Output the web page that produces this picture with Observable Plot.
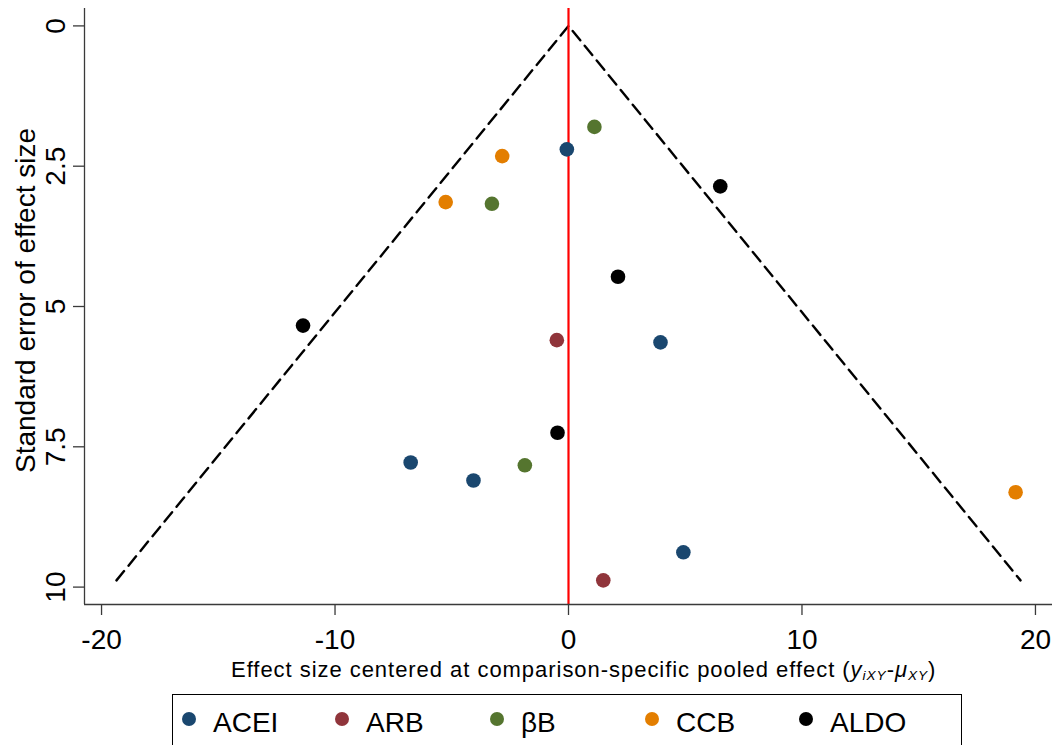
<!DOCTYPE html>
<html>
<head>
<meta charset="utf-8">
<script src="https://cdn.jsdelivr.net/npm/d3@7"></script>
<script src="https://cdn.jsdelivr.net/npm/@observablehq/plot@0.6"></script>
<style>
  html, body { margin: 0; padding: 0; background: #fff; overflow: hidden; }
  #wrap { position: relative; width: 1060px; height: 745px; font-family: "Liberation Sans", Arial, sans-serif; }
  #chart { position: absolute; left: 0; top: 0; }
  #xtitle { position: absolute; left: 231px; top: 656px; font-size: 22px; line-height: 28px; white-space: nowrap; color: #000; }
  #xtitle sub { font-size: 0.62em; vertical-align: -0.25em; font-style: italic; }
  #legend { position: absolute; left: 172px; top: 694px; width: 790px; height: 70px; border: 1.5px solid #000; box-sizing: border-box; }
  .item { position: absolute; top: 0; height: 56px; display: flex; align-items: center; font-size: 28px; color: #000; }
  .sw { display: inline-block; width: 14px; height: 14px; border-radius: 50%; margin-right: 17px; margin-top: -8px; }
</style>
</head>
<body>
<div id="wrap">
  <div id="chart"></div>
  <div id="xtitle"><span id="xt">Effect size centered at comparison-specific pooled effect (<i>y</i><sub>iXY</sub>-<i>μ</i><sub>XY</sub>)</span></div>
  <div id="legend"></div>
</div>
<script>
// ---- data ----
const classes = ["ACEI", "ARB", "βB", "CCB", "ALDO"];
const classColors = ["#1a476f", "#90353b", "#55752f", "#e37e00", "#000000"];

const aceiEffect = [-0.07, 3.94, -6.76, -4.07, 4.92];
const aceiSE     = [2.20, 5.64, 7.78, 8.10, 9.38];
const arbEffect  = [-0.50, 1.49];
const arbSE      = [5.60, 9.88];
const bbEffect   = [1.11, -3.28, -1.87];
const bbSE       = [1.80, 3.17, 7.83];
const ccbEffect  = [-2.84, -5.26, 19.15];
const ccbSE      = [2.32, 3.14, 8.31];
const aldoEffect = [6.50, 2.12, -11.37, -0.47];
const aldoSE     = [2.86, 4.47, 5.34, 7.25];

// pseudo 95% confidence funnel (left end, apex, right end)
const funnelEffect = [-19.36, 0, 19.36];
const funnelSE     = [9.88, 0, 9.88];

const xTicks = [-20, -10, 0, 10, 20];
const yTicks = [0, 2.5, 5, 7.5, 10];
const xDomain = [-20.73, 20.73];
const yDomain = [-0.31, 10.31];

// ---- build table ----
const seriesEffect = [aceiEffect, arbEffect, bbEffect, ccbEffect, aldoEffect];
const seriesSE = [aceiSE, arbSE, bbSE, ccbSE, aldoSE];
const points = [];
classes.forEach((c, i) => {
  seriesEffect[i].forEach((e, j) => points.push({cls: c, effect: e, se: seriesSE[i][j]}));
});
const funnel = funnelEffect.map((e, i) => ({effect: e, se: funnelSE[i]}));

const chart = Plot.plot({
  width: 1060,
  height: 656,
  marginLeft: 84,
  marginRight: 8,
  marginTop: 8,
  marginBottom: 52,
  style: {fontFamily: '"Liberation Sans", Arial, sans-serif', background: "#fff", color: "#000"},
  x: {domain: xDomain},
  y: {domain: yDomain, reverse: true},
  color: {domain: classes, range: classColors},
  marks: [
    Plot.line(funnel, {x: "effect", y: "se", stroke: "#000", strokeWidth: 2.4, strokeDasharray: "12,7"}),
    Plot.ruleX([0], {stroke: "#ff0000", strokeWidth: 2.2}),
    Plot.dot(points, {x: "effect", y: "se", fill: "cls", r: 7.3}),
    Plot.ruleX([xDomain[0]], {stroke: "#3a3a3a", strokeWidth: 1.3}),
    Plot.ruleY([yDomain[1]], {stroke: "#3a3a3a", strokeWidth: 1.3}),
    Plot.axisX({ticks: xTicks, tickSize: 11, tickPadding: 14, fontSize: 28, label: null, stroke: "#3a3a3a", strokeWidth: 1.3, tickFormat: d => String(d)}),
    Plot.axisY({ticks: yTicks, tickSize: 11, fontSize: 28, label: null, stroke: "#3a3a3a", strokeWidth: 1.3, tickFormat: () => ""}),
    Plot.text(yTicks, {y: d => d, text: d => String(d), frameAnchor: "left", dx: -20, rotate: -90, textAnchor: "middle", lineAnchor: "bottom", fontSize: 28, fill: "#000"}),
    Plot.text(["Standard error of effect size"], {text: d => d, frameAnchor: "left", dx: -50, dy: -6, rotate: -90, textAnchor: "middle", lineAnchor: "bottom", fontSize: 28, fill: "#000"})
  ]
});
document.getElementById("chart").appendChild(chart);

// legend
const legend = document.getElementById("legend");
const legendLefts = [9, 162, 317, 472, 626];
classes.forEach((c, i) => {
  const it = document.createElement("div");
  it.className = "item";
  it.style.left = legendLefts[i] + "px";
  const sw = document.createElement("span");
  sw.className = "sw";
  sw.style.background = classColors[i];
  it.appendChild(sw);
  const t = document.createElement("span");
  t.textContent = c;
  it.appendChild(t);
  legend.appendChild(it);
});

// fit x title width to reference span
const xt = document.getElementById("xt");
const w = xt.getBoundingClientRect().width;
const n = xt.textContent.length;
xt.style.letterSpacing = ((705 - w) / n).toFixed(2) + "px";
</script>
</body>
</html>
